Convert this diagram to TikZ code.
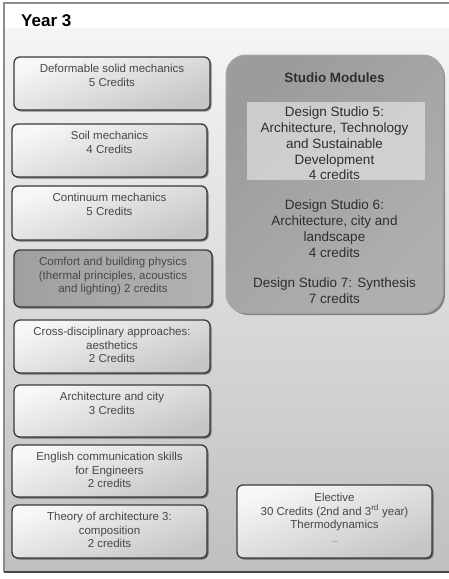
\documentclass[tikz,border=0pt]{standalone}
\usepackage{fontspec}
\setmainfont{Liberation Sans}
\usetikzlibrary{shadows}
\definecolor{frameline}{HTML}{8C8C8C}
\definecolor{boxline}{HTML}{3A3A3A}
\definecolor{boxtext}{HTML}{474747}
\definecolor{studiotext}{HTML}{2E2E2E}

\begin{document}
\begin{tikzpicture}[x=1pt,y=1pt,
  course/.style={draw=boxline, line width=1.3pt, rounded corners=6pt,
    top color=gray!6, bottom color=gray!45, shading angle=20,
    drop shadow={shadow xshift=1.5pt, shadow yshift=-1.5pt, opacity=.45, fill=black}},
  darkcourse/.style={course, left color=gray!75, middle color=gray!30, right color=gray!60},
  studiobox/.style={draw=gray!70, line width=1pt, rounded corners=20pt,
    top color=gray!78, middle color=gray!20, bottom color=gray!62, shading angle=45,
    drop shadow={shadow xshift=2pt, shadow yshift=-2pt, opacity=.4, fill=black}},
  coursetext/.style={anchor=north, inner sep=0pt, align=center, text=boxtext,
    font=\fontsize{11.5}{13.6}\selectfont},
  studiotext/.style={anchor=north, inner sep=0pt, align=center, text=studiotext,
    font=\fontsize{13.5}{15.7}\selectfont}]
  \useasboundingbox (0,0) rectangle (449,-579);

  % background panel
  \fill[white] (4,-3) rectangle (449,-28);
  \shade[top color=gray!8, bottom color=gray!50] (4,-28) rectangle (449,-572);
  \draw[frameline, line width=1.2pt] (449,-3) -- (4,-3) -- (4,-572);
  \draw[gray!55!black, line width=1.6pt] (4,-572) -- (449,-572);
  \node[anchor=north west, inner sep=0pt, font=\bfseries\fontsize{17}{20}\selectfont]
    (title) at (21,-14) {Year 3};

  % left column
  \draw[course] (14,-57) rectangle (210,-110);
  \node[coursetext] (def) at (112,-64) {Deformable solid mechanics\\5 Credits};
  \draw[course] (12,-124) rectangle (207,-177);
  \node[coursetext] (soil) at (109.5,-131) {Soil mechanics\\4 Credits};
  \draw[course] (12,-186) rectangle (207,-240);
  \node[coursetext] (cont) at (109.5,-193) {Continuum mechanics\\5 Credits};
  \draw[darkcourse] (14,-250) rectangle (212,-307);
  \node[coursetext] (comfort) at (113,-257) {Comfort and building physics\\(thermal principles, acoustics\\and lighting) 2 credits};
  \draw[course] (14,-320) rectangle (210,-373);
  \node[coursetext] (cross) at (112,-327) {Cross-disciplinary approaches:\\aesthetics\\2 Credits};
  \draw[course] (14,-385) rectangle (210,-437);
  \node[coursetext] (archcity) at (112,-392) {Architecture and city\\3 Credits};
  \draw[course] (12,-445) rectangle (207,-497);
  \node[coursetext] (english) at (109.5,-452) {English communication skills\\for Engineers\\2 credits};
  \draw[course] (12,-505) rectangle (207,-558);
  \node[coursetext] (theory) at (109.5,-512) {Theory of architecture 3:\\composition\\2 credits};

  % studio modules
  \draw[studiobox] (226,-55) rectangle (443,-313);
  \fill[gray!15, opacity=.6] (247,-102) rectangle (425,-180);
  \node[studiotext, font=\bfseries\fontsize{13.5}{15.7}\selectfont] (studio) at (334.5,-73) {Studio Modules};
  \node[studiotext] (ds5) at (334.5,-107) {Design Studio 5:\\Architecture, Technology\\and Sustainable\\Development\\4 credits};
  \node[studiotext] (ds6) at (334.5,-200) {Design Studio 6:\\Architecture, city and\\landscape\\4 credits};
  \node[studiotext] (ds7) at (334.5,-278) {Design Studio 7: Synthesis\\7 credits};

  % elective
  \draw[course] (237,-485) rectangle (432,-558);
  \node[coursetext] (elective) at (334.5,-493) {Elective\\30 Credits (2nd and 3\textsuperscript{rd} year)\\Thermodynamics\\{\scriptsize ...}};
\end{tikzpicture}
\end{document}
